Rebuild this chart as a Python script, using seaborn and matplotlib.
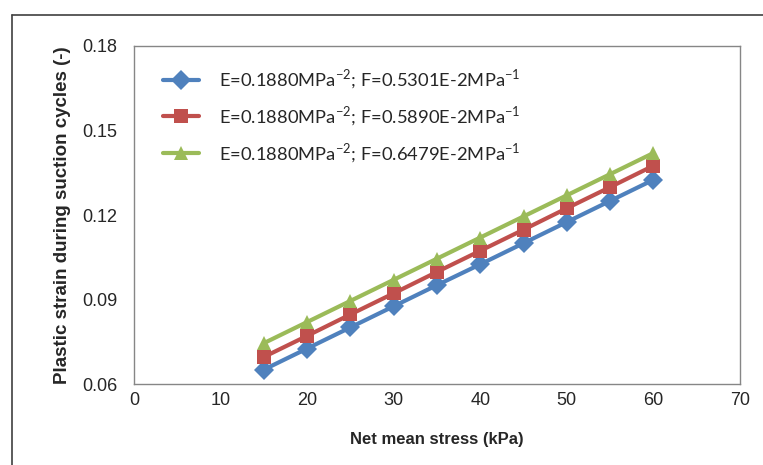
"""Plastic strain during suction cycles vs net mean stress."""
import numpy as np
import pandas as pd
import seaborn as sns
import matplotlib.pyplot as plt
from matplotlib.lines import Line2D
from matplotlib.ticker import MultipleLocator

stress = [15, 20, 25, 30, 35, 40, 45, 50, 55, 60]
strain_f1 = [0.0651, 0.0726, 0.0801, 0.0876, 0.0951, 0.1025, 0.1100, 0.1175, 0.1250, 0.1325]
strain_f2 = [0.0696, 0.0771, 0.0847, 0.0922, 0.0998, 0.1073, 0.1148, 0.1224, 0.1299, 0.1375]
strain_f3 = [0.0745, 0.0820, 0.0895, 0.0970, 0.1045, 0.1120, 0.1195, 0.1270, 0.1345, 0.1420]
labels = [
    r"E=0.1880MPa$^{\mathregular{-2}}$; F=0.5301E-2MPa$^{\mathregular{-1}}$",
    r"E=0.1880MPa$^{\mathregular{-2}}$; F=0.5890E-2MPa$^{\mathregular{-1}}$",
    r"E=0.1880MPa$^{\mathregular{-2}}$; F=0.6479E-2MPa$^{\mathregular{-1}}$",
]
colors = ["#4F81BD", "#C0504D", "#9BBB59"]

df = pd.concat(
    [
        pd.DataFrame({"stress": stress, "strain": s, "series": lab})
        for s, lab in zip([strain_f1, strain_f2, strain_f3], labels)
    ]
)

sns.set_style("white")
plt.rcParams["font.family"] = ["Liberation Sans", "DejaVu Sans"]

fig = plt.figure(figsize=(7.63, 4.65), dpi=100)
ax = fig.add_axes([134 / 763, 1 - 384 / 465, (740 - 134) / 763, (384 - 46) / 465])

sns.lineplot(
    data=df, x="stress", y="strain", hue="series", style="series",
    markers=["D", "s", "^"], dashes=False, palette=colors,
    linewidth=3, markersize=10, markeredgewidth=0, ax=ax,
)

ax.set_xlim(0, 70)
ax.set_ylim(0.06, 0.18)
ax.xaxis.set_major_locator(MultipleLocator(10))
ax.xaxis.set_minor_locator(MultipleLocator(5))
ax.yaxis.set_major_locator(MultipleLocator(0.03))
ax.yaxis.set_minor_locator(MultipleLocator(0.015))
ax.set_yticklabels([f"{v:.2f}" for v in ax.get_yticks()])
ax.tick_params(which="both", direction="out", color="#868686", width=1)
ax.tick_params(which="major", length=5, labelsize=13)
ax.tick_params(which="minor", length=4)
ax.tick_params(axis="x", which="major", pad=1)
ax.tick_params(axis="y", which="major", pad=7)
for sp in ax.spines.values():
    sp.set_color("#868686")
    sp.set_linewidth(1)

ax.set_xlabel("Net mean stress (kPa)", fontsize=12, fontweight="bold", labelpad=16)
ax.set_ylabel("Plastic strain during suction cycles (-)", fontsize=13.5, fontweight="bold", labelpad=8)

handles, _ = ax.get_legend_handles_labels()
leg = ax.legend(
    handles, labels, loc="upper left", bbox_to_anchor=(0.02, 0.985), frameon=False,
    prop={"family": ["Lato", "DejaVu Sans"], "size": 13.2},
    handlelength=2.0, labelspacing=0.72, handletextpad=1.1,
)

# outer chart frame
fig.add_artist(Line2D([12 / 763, 12 / 763], [0, 1 - 15 / 465], color="#404040", lw=1.2))
fig.add_artist(Line2D([12 / 763, 1], [1 - 15 / 465, 1 - 15 / 465], color="#404040", lw=1.2))

fig.savefig("out.png", dpi=100)
